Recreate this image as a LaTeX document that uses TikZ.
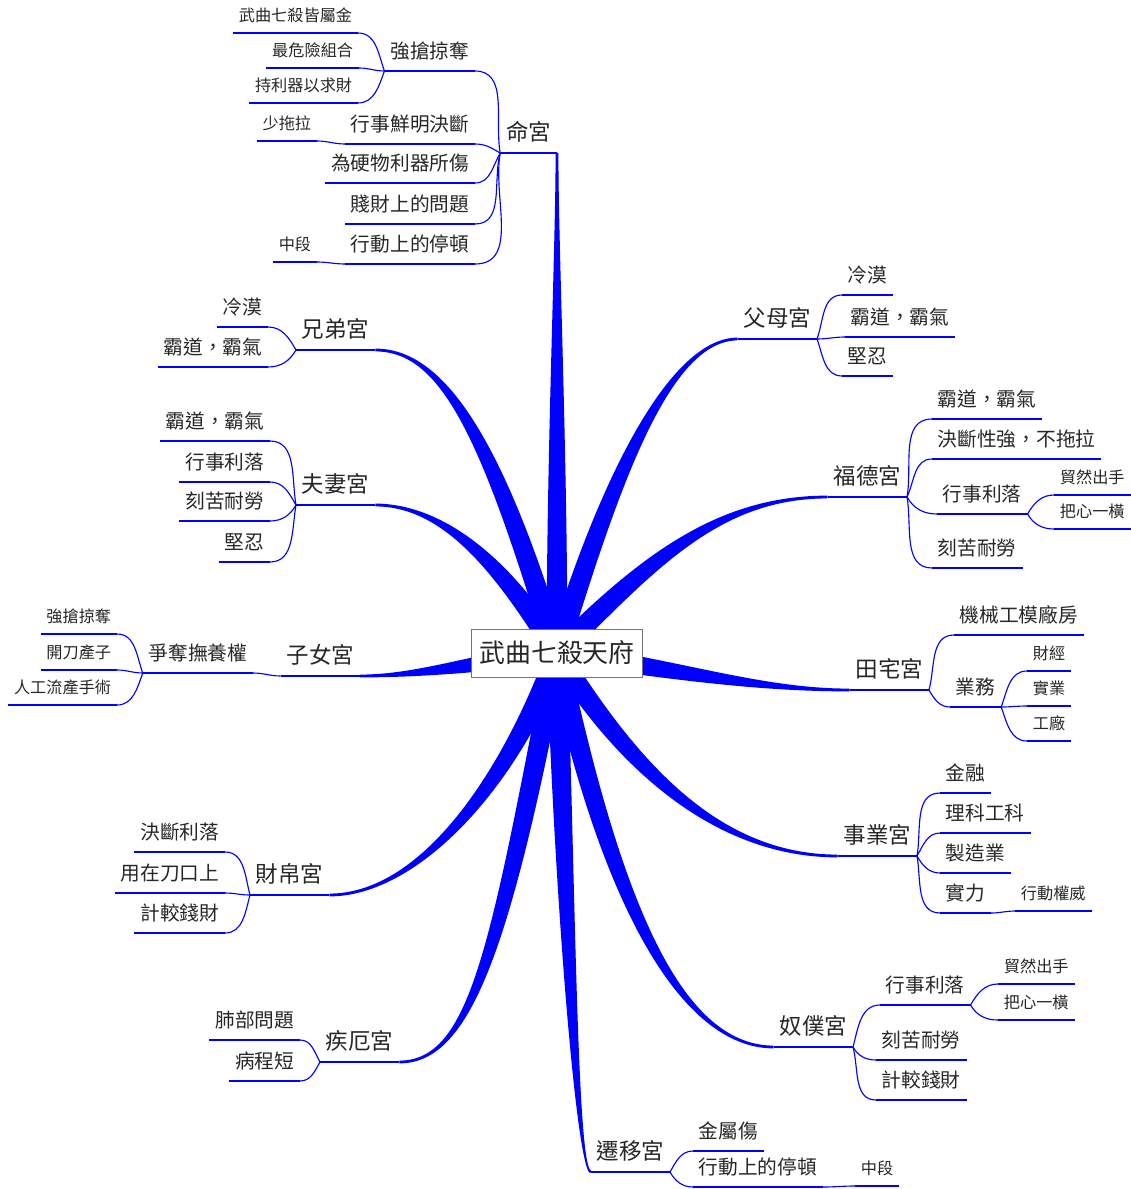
\documentclass[tikz,border=0pt]{standalone}
\usepackage{fontspec}
\newfontfamily\cjk[Script=CJK, Language=Chinese Traditional]{Noto Sans CJK TC}
\usetikzlibrary{calc,backgrounds}

\tikzset{
  twig/.style={draw=blue, line width=0.8pt},
  uline/.style={append after command={(\tikzlastnode.south west) edge[twig] (\tikzlastnode.south east)}},
  lvA/.style={uline, font=\cjk\fontsize{16}{18}\selectfont, text=black!85, inner xsep=4pt, inner ysep=9pt, text depth=0pt},
  lvB/.style={uline, font=\cjk\fontsize{14}{16}\selectfont, text=black!85, inner xsep=4pt, inner ysep=8.8pt, text depth=0pt},
  lvC/.style={uline, font=\cjk\fontsize{11.5}{13}\selectfont, text=black!85, inner xsep=4pt, inner ysep=7.9pt, text depth=0pt},
  se/.style={anchor=south east},
  sw/.style={anchor=south west},
  twl/.style={out=#1, in=0},
  twr/.style={out=#1, in=180},
  root/.style={draw=black!55, line width=0.7pt, fill=white, font=\cjk\fontsize{18.4}{20}\selectfont, text=black!85, minimum width=4.275cm, minimum height=1.2cm, inner sep=0pt},
}

% tapered main branch: control 1, control 2, end
\def\bw{0.26cm}
\def\ew{0.035cm}
\newcommand\limb[3]{%
  \fill[blue] ($(root.center)!\bw!90:(#1)$)
    .. controls ($(#1)!\bw!-90:(root.center)$) and ($(#2)!\ew!90:(#3)$)
    .. ($(#3)!\ew!-90:(#2)$)
    -- ($(#3)!\ew!90:(#2)$)
    .. controls ($(#2)!\ew!-90:(#3)$) and ($(#1)!\bw!90:(root.center)$)
    .. ($(root.center)!\bw!-90:(#1)$) -- cycle;}

\begin{document}
\begin{tikzpicture}[x=0.025cm, y=-0.025cm]
  \useasboundingbox (0,0) rectangle (1130,1189);

  \node[root] (root) at (557,653) {武曲七殺天府};

  % palaces
  \node[lvA, se] (ming) at (557,153) {命宮};
  \node[lvA, se] (fumu) at (817,339) {父母宮};
  \node[lvA, se] (fude) at (907,497) {福德宮};
  \node[lvA, se] (tianzhai) at (929,690) {田宅宮};
  \node[lvA, se] (shiye) at (917,856) {事業宮};
  \node[lvA, se] (nupu) at (853,1047) {奴僕宮};
  \node[lvA, se] (qianyi) at (670,1172) {遷移宮};
  \node[lvA, sw] (jie) at (320,1062) {疾厄宮};
  \node[lvA, sw] (caibo) at (250,895) {財帛宮};
  \node[lvA, se] (zinv) at (360,676) {子女宮};
  \node[lvA, sw] (fuqi) at (296,505) {夫妻宮};
  \node[lvA, sw] (xiongdi) at (296,350) {兄弟宮};

  % 命宮
  \node[lvB, se] (mQ) at (475,71) {強搶掠奪};
  \node[lvC, se] (mQa) at (358,33) {武曲七殺皆屬金};
  \node[lvC, se] (mQb) at (359,68) {最危險組合};
  \node[lvC, se] (mQc) at (358,103) {持利器以求財};
  \node[lvB, se] (mX) at (475,144) {行事鮮明決斷};
  \node[lvC, se] (mXa) at (317,141) {少拖拉};
  \node[lvB, se] (mW) at (475,183) {為硬物利器所傷};
  \node[lvB, se] (mJ) at (475,224) {賤財上的問題};
  \node[lvB, se] (mD) at (475,264) {行動上的停頓};
  \node[lvC, se] (mDa) at (317,262) {中段};
  \draw[twig] (ming.south west) to[twl=100] (mQ.south east);
  \draw[twig] (ming.south west) to[twl=150] (mX.south east);
  \draw[twig] (ming.south west) to[twl=240] (mW.south east);
  \draw[twig] (ming.south west) to[twl=255] (mJ.south east);
  \draw[twig] (ming.south west) to[twl=260] (mD.south east);
  \draw[twig] (mQ.south west) to[twl=110] (mQa.south east);
  \draw[twig] (mQ.south west) to[twl=180] (mQb.south east);
  \draw[twig] (mQ.south west) to[twl=250] (mQc.south east);
  \draw[twig] (mX.south west) to[twl=180] (mXa.south east);
  \draw[twig] (mD.south west) to[twl=180] (mDa.south east);

  % 父母宮
  \node[lvB, sw] (fmA) at (842,295) {冷漠};
  \node[lvB, sw] (fmB) at (845,337) {霸道，霸氣};
  \node[lvB, sw] (fmC) at (842,376) {堅忍};
  \draw[twig] (fumu.south east) to[twr=70] (fmA.south west);
  \draw[twig] (fumu.south east) to[twr=0] (fmB.south west);
  \draw[twig] (fumu.south east) to[twr=290] (fmC.south west);

  % 兄弟宮
  \node[lvB, se] (xdA) at (268,327) {冷漠};
  \node[lvB, se] (xdB) at (268,367) {霸道，霸氣};
  \draw[twig] (xiongdi.south west) to[twl=120] (xdA.south east);
  \draw[twig] (xiongdi.south west) to[twl=240] (xdB.south east);

  % 夫妻宮
  \node[lvB, se] (fqA) at (270,441) {霸道，霸氣};
  \node[lvB, se] (fqB) at (270,482) {行事利落};
  \node[lvB, se] (fqC) at (270,521) {刻苦耐勞};
  \node[lvB, se] (fqD) at (270,562) {堅忍};
  \draw[twig] (fuqi.south west) to[twl=100] (fqA.south east);
  \draw[twig] (fuqi.south west) to[twl=120] (fqB.south east);
  \draw[twig] (fuqi.south west) to[twl=240] (fqC.south east);
  \draw[twig] (fuqi.south west) to[twl=260] (fqD.south east);

  % 子女宮
  \node[lvB, se] (znA) at (253,673) {爭奪撫養權};
  \node[lvC, se] (znAa) at (117,634) {強搶掠奪};
  \node[lvC, se] (znAb) at (117,670) {開刀產子};
  \node[lvC, se] (znAc) at (117,705) {人工流產手術};
  \draw[twig] (zinv.south west) to[twl=180] (znA.south east);
  \draw[twig] (znA.south west) to[twl=110] (znAa.south east);
  \draw[twig] (znA.south west) to[twl=180] (znAb.south east);
  \draw[twig] (znA.south west) to[twl=250] (znAc.south east);

  % 財帛宮
  \node[lvB, se] (cbA) at (225,852) {決斷利落};
  \node[lvB, se] (cbB) at (225,893) {用在刀口上};
  \node[lvB, se] (cbC) at (225,933) {計較錢財};
  \draw[twig] (caibo.south west) to[twl=105] (cbA.south east);
  \draw[twig] (caibo.south west) to[twl=180] (cbB.south east);
  \draw[twig] (caibo.south west) to[twl=255] (cbC.south east);

  % 疾厄宮
  \node[lvB, se] (jeA) at (300,1040) {肺部問題};
  \node[lvB, se] (jeB) at (300,1081) {病程短};
  \draw[twig] (jie.south west) to[twl=120] (jeA.south east);
  \draw[twig] (jie.south west) to[twl=240] (jeB.south east);

  % 遷移宮
  \node[lvB, sw] (qyA) at (693,1151) {金屬傷};
  \node[lvB, sw] (qyB) at (693,1187) {行動上的停頓};
  \node[lvC, sw] (qyBa) at (855,1186) {中段};
  \draw[twig] (qianyi.south east) to[twr=60] (qyA.south west);
  \draw[twig] (qianyi.south east) to[twr=300] (qyB.south west);
  \draw[twig] (qyB.south east) to[twr=0] (qyBa.south west);

  % 奴僕宮
  \node[lvB, sw] (npA) at (880,1005) {行事利落};
  \node[lvC, sw] (npAa) at (998,984) {貿然出手};
  \node[lvC, sw] (npAb) at (998,1020) {把心一橫};
  \node[lvB, sw] (npB) at (876,1060) {刻苦耐勞};
  \node[lvB, sw] (npC) at (876,1100) {計較錢財};
  \draw[twig] (nupu.south east) to[twr=75] (npA.south west);
  \draw[twig] (nupu.south east) to[twr=300] (npB.south west);
  \draw[twig] (nupu.south east) to[twr=285] (npC.south west);
  \draw[twig] (npA.south east) to[twr=60] (npAa.south west);
  \draw[twig] (npA.south east) to[twr=300] (npAb.south west);

  % 事業宮
  \node[lvB, sw] (syA) at (940,793) {金融};
  \node[lvB, sw] (syB) at (940,833) {理科工科};
  \node[lvB, sw] (syC) at (940,873) {製造業};
  \node[lvB, sw] (syD) at (940,913) {實力};
  \node[lvC, sw] (syDa) at (1015,911) {行動權威};
  \draw[twig] (shiye.south east) to[twr=80] (syA.south west);
  \draw[twig] (shiye.south east) to[twr=60] (syB.south west);
  \draw[twig] (shiye.south east) to[twr=300] (syC.south west);
  \draw[twig] (shiye.south east) to[twr=280] (syD.south west);
  \draw[twig] (syD.south east) to[twr=0] (syDa.south west);

  % 田宅宮
  \node[lvB, sw] (tzA) at (954,635) {機械工模廠房};
  \node[lvB, sw] (tzB) at (950,707) {業務};
  \node[lvC, sw] (tzBa) at (1027,671) {財經};
  \node[lvC, sw] (tzBb) at (1027,706) {實業};
  \node[lvC, sw] (tzBc) at (1027,741) {工廠};
  \draw[twig] (tianzhai.south east) to[twr=75] (tzA.south west);
  \draw[twig] (tianzhai.south east) to[twr=300] (tzB.south west);
  \draw[twig] (tzB.south east) to[twr=70] (tzBa.south west);
  \draw[twig] (tzB.south east) to[twr=0] (tzBb.south west);
  \draw[twig] (tzB.south east) to[twr=290] (tzBc.south west);

  % 福德宮
  \node[lvB, sw] (fdA) at (932,419) {霸道，霸氣};
  \node[lvB, sw] (fdB) at (932,459) {決斷性強，不拖拉};
  \node[lvB, sw] (fdC) at (937,514) {行事利落};
  \node[lvC, sw] (fdCa) at (1054,495) {貿然出手};
  \node[lvC, sw] (fdCb) at (1054,529) {把心一橫};
  \node[lvB, sw] (fdD) at (932,568) {刻苦耐勞};
  \draw[twig] (fude.south east) to[twr=80] (fdA.south west);
  \draw[twig] (fude.south east) to[twr=65] (fdB.south west);
  \draw[twig] (fude.south east) to[twr=300] (fdC.south west);
  \draw[twig] (fude.south east) to[twr=280] (fdD.south west);
  \draw[twig] (fdC.south east) to[twr=60] (fdCa.south west);
  \draw[twig] (fdC.south east) to[twr=300] (fdCb.south west);

  % thick branches from the centre
  \begin{scope}[on background layer]
    \limb{557,450}{557,250}{ming.south east}
    \limb{610,480}{670,339}{fumu.south west}
    \limb{650,560}{720,497}{fude.south west}
    \limb{680,670}{760,690}{tianzhai.south west}
    \limb{630,770}{720,856}{shiye.south west}
    \limb{610,900}{680,1047}{nupu.south west}
    \limb{565,900}{577,1168}{qianyi.south west}
    \limb{500,950}{470,1062}{jie.south east}
    \limb{510,780}{420,895}{caibo.south east}
    \limb{480,662}{420,676}{zinv.south east}
    \limb{500,560}{440,505}{fuqi.south east}
    \limb{490,430}{440,350}{xiongdi.south east}
  \end{scope}
\end{tikzpicture}
\end{document}
